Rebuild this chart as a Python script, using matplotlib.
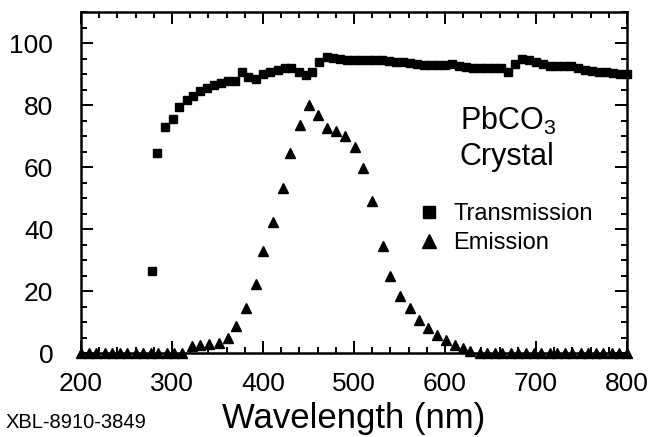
import matplotlib.pyplot as plt
from matplotlib.ticker import MultipleLocator

plt.rcParams['font.family'] = ['Liberation Sans', 'DejaVu Sans']
plt.rcParams['mathtext.fontset'] = 'custom'
plt.rcParams['mathtext.rm'] = 'Liberation Sans'

# transmission (%) vs wavelength (nm)
trans_wl = [278, 283, 292, 301, 308, 316, 323, 331, 338, 346, 354, 362, 369, 377, 384,
            392, 400, 408, 416, 424, 431, 439, 447, 454, 462, 470, 477, 485, 492, 500,
            508, 516, 523, 531, 539, 546, 554, 562, 569, 577, 585, 592, 600, 608, 615,
            623, 631, 638, 646, 654, 662, 669, 677, 685, 692, 700, 708, 715, 723, 731,
            738, 746, 754, 761, 769, 777, 785, 792, 800]
trans_val = [26.5, 64.5, 73.0, 75.6, 79.4, 81.7, 82.8, 84.5, 85.5, 86.5, 87.1, 87.6, 87.7, 90.8, 89.0,
             88.4, 90.1, 90.6, 91.4, 91.9, 91.9, 90.8, 89.6, 90.7, 93.9, 95.4, 95.3, 94.8, 94.6, 94.6,
             94.5, 94.5, 94.5, 94.4, 94.1, 94.0, 93.9, 93.5, 93.2, 93.0, 93.0, 92.9, 93.0, 93.2, 92.6,
             92.3, 92.1, 92.0, 92.0, 92.0, 91.8, 90.6, 93.2, 95.0, 94.5, 94.0, 93.2, 92.7, 92.5, 92.5,
             92.6, 91.8, 91.4, 91.0, 90.8, 90.5, 90.3, 90.1, 90.0]

# emission (arb. units) vs wavelength (nm)
emis_wl = [200, 209, 217, 226, 234, 243, 251, 260, 268, 277, 285, 294, 302, 311,
           322, 331, 341, 352, 362, 370, 381, 392, 400, 411, 422, 430, 441, 451, 460,
           470, 480, 490, 501, 510, 520, 532, 540, 550, 561, 571, 581, 591, 601, 611,
           620, 628, 638, 646, 655, 663, 672, 680, 689, 698, 706, 715, 723, 732, 740,
           749, 757, 766, 774, 783, 791, 800]
emis_val = [0, 0, 0, 0, 0, 0, 0, 0, 0, 0, 0, 0, 0, 0,
            2.1, 2.5, 2.9, 3.2, 4.8, 8.6, 14.5, 22.4, 32.8, 42.4, 53.2, 64.5, 73.6, 80.1, 76.9,
            72.6, 71.5, 70.1, 66.4, 59.7, 48.9, 34.4, 24.7, 18.3, 14.5, 10.7, 8.1, 5.9, 4.1, 2.7,
            1.6, 0.8, 0, 0, 0, 0, 0, 0, 0, 0, 0, 0, 0, 0, 0,
            0, 0, 0, 0, 0, 0, 0]

fig = plt.figure(figsize=(6.54, 4.37), dpi=100)
ax = fig.add_axes([0.1239, 0.1922, 0.8348, 0.7803])

ax.plot(trans_wl, trans_val, 's', color='black', markersize=6, clip_on=False, label='Transmission')
ax.plot(emis_wl, emis_val, '^', color='black', markersize=7.5, clip_on=False, label='Emission')

ax.set_xlim(200, 800)
ax.set_ylim(0, 110)
ax.set_xticks(range(200, 801, 100))
ax.set_yticks(range(0, 101, 20))
ax.xaxis.set_minor_locator(MultipleLocator(20))
ax.yaxis.set_minor_locator(MultipleLocator(5))
ax.tick_params(which='both', direction='in', top=True, right=True, width=1.4)
ax.tick_params(which='major', length=8.5, labelsize=19)
ax.tick_params(axis='y', which='major', pad=20)
ax.tick_params(axis='x', which='major', pad=14)
ax.tick_params(which='minor', length=4.5)
for s in ax.spines.values():
    s.set_linewidth(1.8)

ax.set_xlabel('Wavelength (nm)', fontsize=25, labelpad=4)

ax.text(616, 72, 'PbCO$_\\mathregular{3}$', fontsize=22, va='baseline', ha='left')
ax.text(616, 60.8, 'Crystal', fontsize=22, va='baseline', ha='left')

ax.legend(loc='center left', bbox_to_anchor=(0.615, 0.365), frameon=False, fontsize=17,
          markerscale=1.35, handlelength=1.0, handletextpad=0.55, labelspacing=0.3,
          borderpad=0, borderaxespad=0)

fig.text(0.008, 0.02, 'XBL-8910-3849', fontsize=14.5, va='baseline', ha='left')

fig.savefig('out.png', dpi=100)
